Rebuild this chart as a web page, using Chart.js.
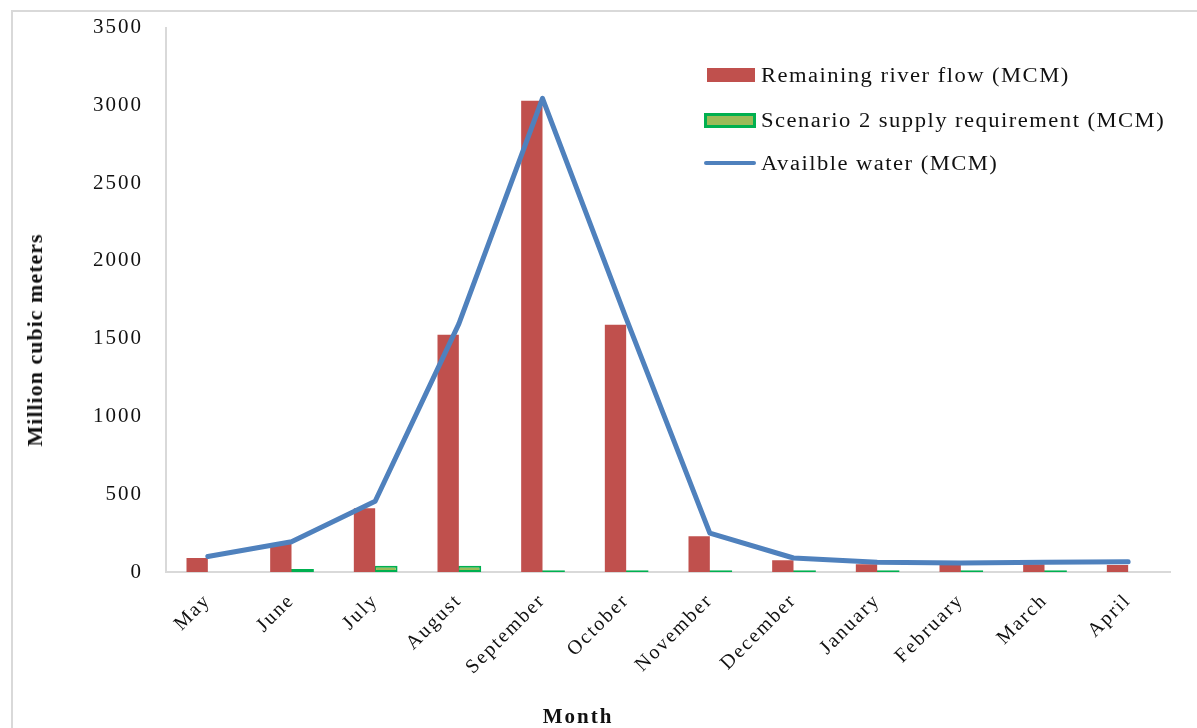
<!DOCTYPE html>
<html>
<head>
<meta charset="utf-8">
<script src="https://cdn.jsdelivr.net/npm/chart.js@4.4.1/dist/chart.umd.min.js"></script>
<style>
  html, body { margin: 0; padding: 0; background: #fff; }
  #wrap { position: relative; width: 1197px; height: 728px; overflow: hidden; }
  #frame { position: absolute; left: 11px; top: 10px; width: 1200px; height: 730px;
           border-left: 2px solid #d9d9d9; border-top: 2px solid #d9d9d9; }
  canvas { position: absolute; left: 0; top: 0; }
  .txt { position: absolute; font-family: "Liberation Serif", "Times New Roman", serif;
         color: #111; white-space: nowrap; }
  .leg { font-size: 20px; line-height: 24px; letter-spacing: 1.3px;
         transform: scaleX(1.13); transform-origin: left center; }
  .sw { position: absolute; box-sizing: border-box; }
  #ytitle { font-size: 22px; font-weight: bold; letter-spacing: 1px; line-height: 24px;
            left: 35px; top: 340px; transform: translate(-50%, -50%) rotate(-90deg); }
  #xtitle { font-size: 21px; font-weight: bold; letter-spacing: 2px; line-height: 24px;
            left: 578px; top: 716px; transform: translate(-50%, -50%); }
</style>
</head>
<body>
<div id="wrap">
  <div id="frame"></div>
  <canvas id="chart" width="1197" height="728"></canvas>
  <div id="ytitle" class="txt">Million cubic meters</div>
  <div id="xtitle" class="txt">Month</div>
  <div id="legend"></div>
</div>
<script>
// Months of the water year
const months = ['May', 'June', 'July', 'August', 'September', 'October',
                'November', 'December', 'January', 'February', 'March', 'April'];

// Monthly volumes in million cubic meters
const remainingFlow = [90, 180, 410, 1525, 3030, 1590, 230, 75, 50, 45, 50, 45];
const supplyRequirement = [0, 20, 40, 40, 12, 12, 12, 12, 12, 12, 12, 0];
const availableWater = [100, 195, 455, 1595, 3045, 1630, 250, 90, 62, 58, 63, 66];

// Value axis ticks
const yTicks = [0, 500, 1000, 1500, 2000, 2500, 3000, 3500];

// Series names
const seriesNames = ['Remaining river flow (MCM)',
                     'Scenario 2 supply requirement (MCM)',
                     'Availble water (MCM)'];

const COLORS = { flow: '#c0504d', supplyFill: '#9bbb59', supplyEdge: '#00b050', water: '#4f81bd' };
const serif = '"Liberation Serif", "Times New Roman", serif';

// Wider glyph spacing for all canvas text
const textSpacing = {
  id: 'textSpacing',
  beforeUpdate(chart) { chart.ctx.letterSpacing = '2px'; },
  beforeDraw(chart) { chart.ctx.letterSpacing = '2px'; }
};

new Chart(document.getElementById('chart'), {
  data: {
    labels: months,
    datasets: [
      {
        type: 'line',
        label: seriesNames[2],
        data: availableWater,
        borderColor: COLORS.water,
        borderWidth: 5,
        borderCapStyle: 'round',
        borderJoinStyle: 'round',
        pointRadius: 0,
        tension: 0,
        fill: false,
        order: 0
      },
      {
        type: 'bar',
        label: seriesNames[0],
        data: remainingFlow,
        backgroundColor: COLORS.flow,
        borderWidth: 0,
        categoryPercentage: 0.51,
        barPercentage: 1.0,
        order: 1
      },
      {
        type: 'bar',
        label: seriesNames[1],
        data: supplyRequirement,
        backgroundColor: COLORS.supplyFill,
        borderColor: COLORS.supplyEdge,
        borderWidth: ctx => (ctx.raw ? 2 : 0),
        borderSkipped: false,
        categoryPercentage: 0.51,
        barPercentage: 1.1,
        order: 2
      }
    ]
  },
  options: {
    responsive: false,
    animation: false,
    layout: { padding: { left: 0, right: 27, top: 18, bottom: 0 } },
    plugins: { legend: { display: false }, tooltip: { enabled: false } },
    scales: {
      x: {
        offset: true,
        grid: { display: false },
        border: { display: true, color: '#d9d9d9', width: 2 },
        ticks: {
          autoSkip: false,
          minRotation: 45,
          maxRotation: 45,
          padding: 9,
          color: '#111',
          font: { family: serif, size: 20 }
        },
        afterFit(scale) { scale.height = 156; }
      },
      y: {
        min: 0,
        max: 3500,
        grid: { display: false },
        border: { display: true, color: '#d9d9d9', width: 2 },
        ticks: {
          padding: 15,
          color: '#111',
          font: { family: serif, size: 21 },
          callback: v => String(v)
        },
        afterBuildTicks(scale) { scale.ticks = yTicks.map(v => ({ value: v })); },
        afterFit(scale) { scale.width = 166; }
      }
    }
  },
  plugins: [textSpacing]
});

// Legend block, upper right
const legend = document.getElementById('legend');
const rows = [
  { y: 75, name: seriesNames[0],
    sw: { left: 707, top: 68, width: 48, height: 14, background: COLORS.flow } },
  { y: 120, name: seriesNames[1],
    sw: { left: 704, top: 113, width: 52, height: 15, background: COLORS.supplyFill,
          border: '3px solid ' + COLORS.supplyEdge } },
  { y: 163, name: seriesNames[2],
    sw: { left: 704, top: 161, width: 52, height: 4, background: COLORS.water, borderRadius: '2px' } }
];
rows.forEach(r => {
  const sw = document.createElement('div');
  sw.className = 'sw';
  Object.entries(r.sw).forEach(([k, v]) => { sw.style[k] = typeof v === 'number' ? v + 'px' : v; });
  legend.appendChild(sw);
  const t = document.createElement('div');
  t.className = 'txt leg';
  t.style.left = '761px';
  t.style.top = (r.y - 12) + 'px';
  t.textContent = r.name;
  legend.appendChild(t);
});
</script>
</body>
</html>
